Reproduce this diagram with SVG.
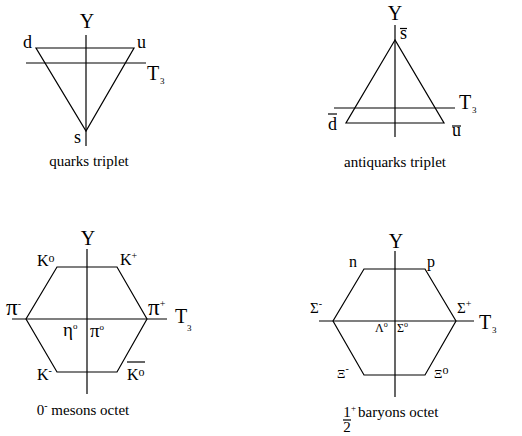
<svg xmlns="http://www.w3.org/2000/svg" width="522" height="436" viewBox="0 0 522 436" font-family="'Liberation Serif', 'Times New Roman', serif">
<style>
.ln{stroke:#000;stroke-width:1.2;fill:none}
text{font-family:'Liberation Serif','Times New Roman',serif;fill:#000}
.ax{font-size:20px}
.lb{font-size:18px}
.cap{font-size:15px}
.sub{font-size:9px}
.sup{font-size:10px}
</style>
<rect width="522" height="436" fill="#fff"/>
<g id="connectors">
  <line class="ln" x1="86" y1="35" x2="86" y2="146"/>
  <line class="ln" x1="26" y1="63" x2="146" y2="63"/>
  <line class="ln" x1="395" y1="25" x2="395" y2="137"/>
  <line class="ln" x1="334" y1="108" x2="455" y2="108"/>
  <line class="ln" x1="87" y1="249" x2="87" y2="394"/>
  <line class="ln" x1="12" y1="319" x2="167" y2="319"/>
  <line class="ln" x1="395" y1="251" x2="395" y2="397"/>
  <line class="ln" x1="319" y1="321" x2="474" y2="321"/>
</g>
<g id="quarks">
  <polygon class="ln" points="36,48 134,48 86,131"/>
  <text class="ax" x="87" y="28" text-anchor="middle">Y</text>
  <text class="lb" x="23" y="48">d</text>
  <text class="lb" x="137" y="48">u</text>
  <text class="lb" x="74" y="143">s</text>
  <text class="ax" x="147" y="80">T</text><text class="sub" x="160" y="84">3</text>
  <text class="cap" x="89" y="166" text-anchor="middle">quarks triplet</text>
</g>
<g id="antiquarks">
  <polygon class="ln" points="395,40 346,123 444,123"/>
  <text class="ax" x="395" y="20" text-anchor="middle">Y</text>
  <text class="lb" x="400" y="39">s</text><line class="ln" x1="400" y1="28.5" x2="407" y2="28.5"/>
  <text class="lb" x="328" y="130">d</text><line class="ln" x1="328" y1="114" x2="337" y2="114"/>
  <text class="lb" x="452" y="136">u</text><line class="ln" x1="452" y1="126" x2="461" y2="126"/>
  <text class="ax" x="459" y="109">T</text><text class="sub" x="472" y="113">3</text>
  <text class="cap" x="395" y="167" text-anchor="middle">antiquarks triplet</text>
</g>
<g id="mesons">
  <polygon class="ln" points="57,267 117,267 147,319 117,372 57,372 26,319"/>
  <text class="ax" x="88" y="245" text-anchor="middle">Y</text>
  <text x="37" y="266" font-size="16">K<tspan font-size="12" dy="-4">o</tspan></text>
  <text x="120" y="265" font-size="16">K<tspan class="sup" dy="-6">+</tspan></text>
  <text x="6" y="315" font-size="23">π<tspan class="sup" dy="-8">-</tspan></text>
  <text x="148" y="315" font-size="23">π<tspan class="sup" dy="-8">+</tspan></text>
  <text x="63" y="336" font-size="19">η<tspan font-size="9" dy="-7">o</tspan></text>
  <text x="90" y="337" font-size="19">π<tspan font-size="9" dy="-7">o</tspan></text>
  <text x="37" y="380" font-size="16">K<tspan class="sup" dy="-6">-</tspan></text>
  <text x="127" y="380" font-size="16">K<tspan font-size="12" dy="-4">o</tspan></text><line class="ln" x1="127" y1="362" x2="145" y2="362"/>
  <text class="ax" x="175" y="323">T</text><text class="sub" x="187" y="331">3</text>
  <text class="cap" x="83" y="415" text-anchor="middle">0<tspan class="sup" dy="-6">-</tspan><tspan dy="6"> mesons octet</tspan></text>
</g>
<g id="baryons">
  <polygon class="ln" points="364,269 425,269 456,321 425,375 364,375 333,321"/>
  <text class="ax" x="396" y="248" text-anchor="middle">Y</text>
  <text x="349" y="267" font-size="16">n</text>
  <text x="427" y="267" font-size="16">p</text>
  <text x="310" y="313" font-size="15">Σ<tspan class="sup" dy="-6">-</tspan></text>
  <text x="457" y="313" font-size="15">Σ<tspan class="sup" dy="-6">+</tspan></text>
  <text x="375" y="332" font-size="12">Λ<tspan font-size="8" dy="-5">o</tspan></text>
  <text x="397" y="332" font-size="12">Σ<tspan font-size="8" dy="-5">o</tspan></text>
  <text x="337" y="378" font-size="13">Ξ<tspan class="sup" dy="-6">-</tspan></text>
  <text x="434" y="378" font-size="13">Ξ<tspan font-size="12" dy="-4">o</tspan></text>
  <text class="ax" x="479" y="329">T</text><text class="sub" x="492" y="333">3</text>
  <text class="cap" x="347" y="417" text-anchor="middle">1</text>
  <line class="ln" x1="343" y1="420" x2="351" y2="420"/>
  <text class="cap" x="347" y="432" text-anchor="middle">2</text>
  <text x="351" y="411" font-size="9">+</text>
  <text class="cap" x="358" y="417">baryons octet</text>
</g>
</svg>
